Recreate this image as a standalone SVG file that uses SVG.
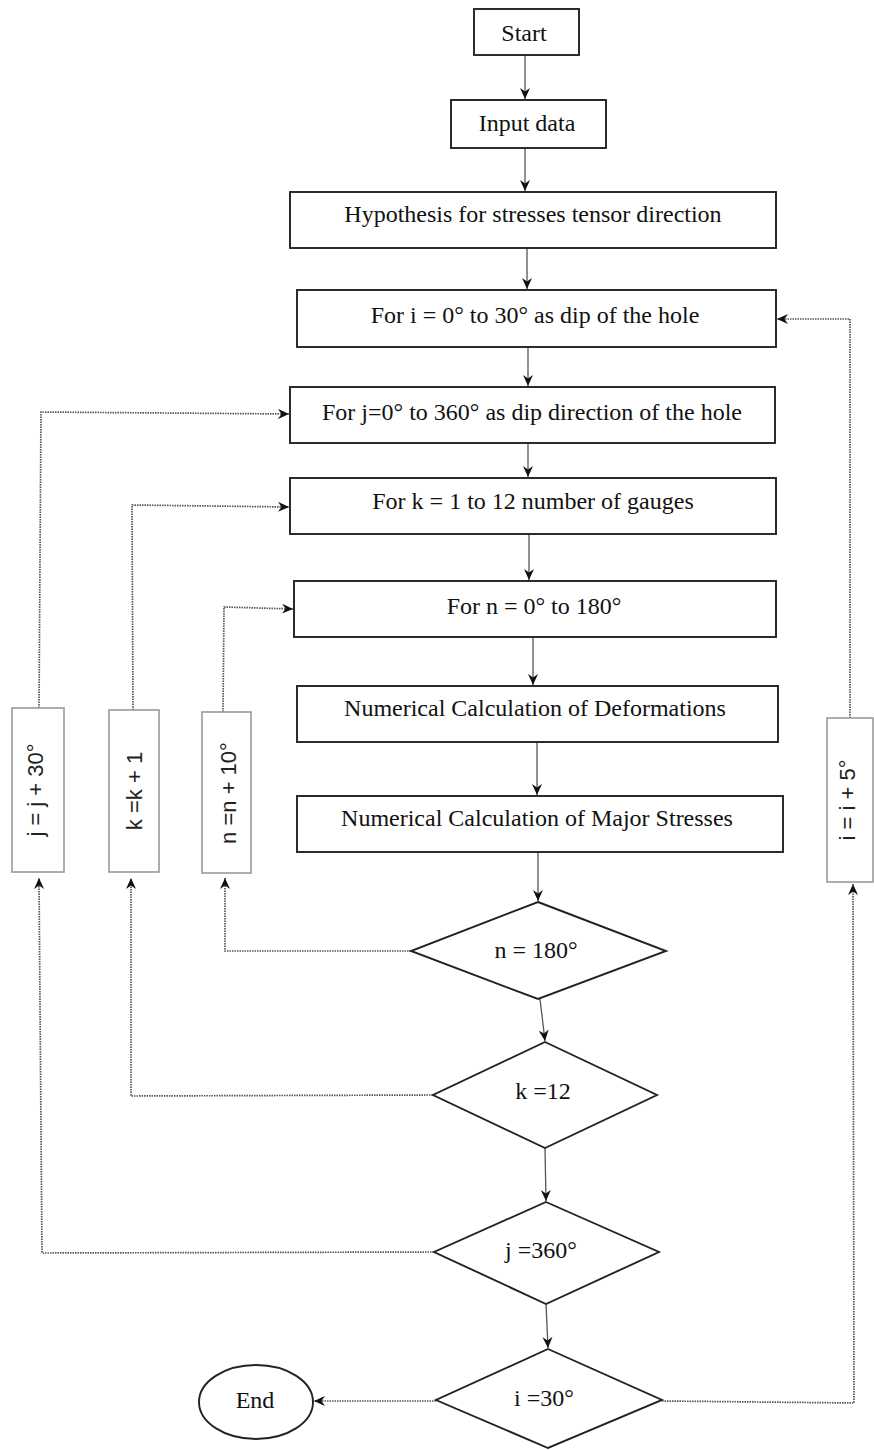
<svg xmlns="http://www.w3.org/2000/svg" width="874" height="1450" viewBox="0 0 874 1450">
<style>
.box{fill:#fff;stroke:#222;stroke-width:1.9}
.inc{fill:#fff;stroke:#9a9a9a;stroke-width:1.6}
.t{font-family:"Liberation Serif","Times New Roman",serif;font-size:24px;fill:#111;text-anchor:middle}
.r{font-family:"Liberation Sans",Arial,sans-serif;font-size:22px;fill:#222;text-anchor:middle}
.solid{fill:none;stroke:#555;stroke-width:1.3;marker-end:url(#ah)}
.dota{fill:none;stroke:#555;stroke-width:1.7;stroke-dasharray:1.5 1;marker-end:url(#ah)}
</style>
<defs>
<marker id="ah" markerUnits="userSpaceOnUse" markerWidth="13" markerHeight="12" refX="11" refY="5" orient="auto">
<path d="M0,0 L11,5 L0,10 L3.5,5 Z" fill="#111"/>
</marker>
</defs>
<rect width="874" height="1450" fill="#fff"/>
<g id="connectors">
<path class="solid" d="M525,55 L525,99"/>
<path class="solid" d="M525,148 L525,191"/>
<path class="solid" d="M527,248 L527,289"/>
<path class="solid" d="M528,347 L528,386"/>
<path class="solid" d="M528,443 L528,477"/>
<path class="solid" d="M529,534 L529,580"/>
<path class="solid" d="M533,637 L533,685"/>
<path class="solid" d="M537,742 L537,795"/>
<path class="solid" d="M538,852 L538,901"/>
<path class="solid" d="M540,999 L545,1041"/>
<path class="solid" d="M545,1148 L546,1201"/>
<path class="solid" d="M546,1304 L548,1348"/>
<path class="dota" d="M436,1401 L314,1401"/>
<path class="dota" d="M662,1401 L854,1403 L853,884"/>
<path class="dota" d="M850,718 L850,319 L777,319"/>
<path class="dota" d="M39,708 L41,412 L289,414"/>
<path class="dota" d="M434,1252 L42,1253 L39,878"/>
<path class="dota" d="M133,710 L132,505 L289,507"/>
<path class="dota" d="M433,1095 L131,1096 L131,878"/>
<path class="dota" d="M223,712 L224,607 L293,609"/>
<path class="dota" d="M411,951 L225,951 L225,878"/>
</g>
<g id="start"><rect class="box" x="474" y="9" width="105" height="46"/><text class="t" x="524" y="41">Start</text></g>
<g id="input"><rect class="box" x="451" y="100" width="155" height="48"/><text class="t" x="527" y="131">Input data</text></g>
<g id="hypothesis"><rect class="box" x="290" y="192" width="486" height="56"/><text class="t" x="533" y="222">Hypothesis for stresses tensor direction</text></g>
<g id="for-i"><rect class="box" x="297" y="290" width="479" height="57"/><text class="t" x="535" y="323">For i = 0° to 30° as dip of the hole</text></g>
<g id="for-j"><rect class="box" x="290" y="387" width="485" height="56"/><text class="t" x="532" y="420">For j=0° to 360° as dip direction of the hole</text></g>
<g id="for-k"><rect class="box" x="290" y="478" width="486" height="56"/><text class="t" x="533" y="509">For k = 1 to 12 number of gauges</text></g>
<g id="for-n"><rect class="box" x="294" y="581" width="482" height="56"/><text class="t" x="534" y="614">For n = 0° to 180°</text></g>
<g id="deformations"><rect class="box" x="297" y="686" width="481" height="56"/><text class="t" x="535" y="716">Numerical Calculation of Deformations</text></g>
<g id="stresses"><rect class="box" x="297" y="796" width="486" height="56"/><text class="t" x="537" y="826">Numerical Calculation of Major Stresses</text></g>
<g id="dec-n"><polygon class="box" points="538,902 666,951 538,999 411,951"/><text class="t" x="536" y="958">n = 180°</text></g>
<g id="dec-k"><polygon class="box" points="545,1042 657,1095 545,1148 433,1095"/><text class="t" x="543" y="1099">k =12</text></g>
<g id="dec-j"><polygon class="box" points="546,1202 659,1252 546,1304 434,1252"/><text class="t" x="541" y="1258">j =360°</text></g>
<g id="dec-i"><polygon class="box" points="548,1349 662,1400 548,1448 436,1400"/><text class="t" x="544" y="1406">i =30°</text></g>
<g id="end"><ellipse class="box" cx="256" cy="1402" rx="57" ry="37"/><text class="t" x="255" y="1408">End</text></g>
<g id="inc-j"><rect class="inc" x="12" y="708" width="52" height="164"/><text class="r" transform="translate(43,790) rotate(-90)">j = j + 30°</text></g>
<g id="inc-k"><rect class="inc" x="109" y="710" width="50" height="162"/><text class="r" transform="translate(142,791) rotate(-90)">k =k + 1</text></g>
<g id="inc-n"><rect class="inc" x="202" y="712" width="49" height="161"/><text class="r" transform="translate(236,793) rotate(-90)">n =n + 10°</text></g>
<g id="inc-i"><rect class="inc" x="827" y="718" width="46" height="164"/><text class="r" transform="translate(855,800) rotate(-90)">i = i + 5°</text></g>
</svg>
